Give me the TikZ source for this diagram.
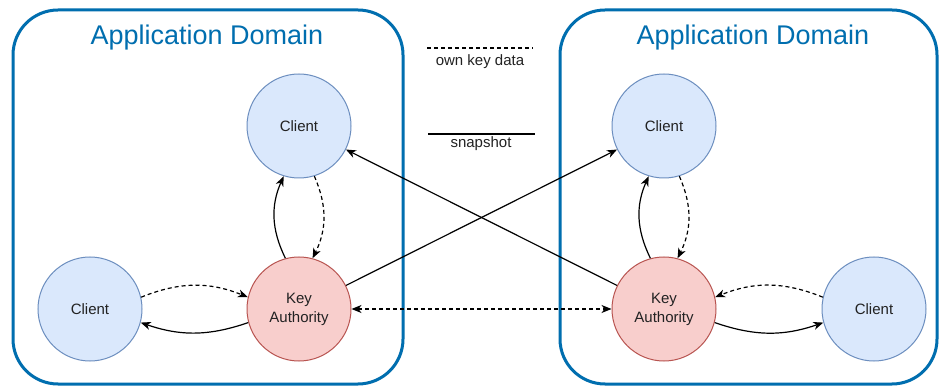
\documentclass[tikz,border=0pt]{standalone}
\usepackage{fontspec}
\setmainfont{Liberation Sans}
\usetikzlibrary{arrows.meta,positioning}
\definecolor{domainblue}{RGB}{0,110,175}
\definecolor{clientfill}{RGB}{218,232,252}
\definecolor{clientline}{RGB}{108,142,191}
\definecolor{authfill}{RGB}{248,206,204}
\definecolor{authline}{RGB}{184,84,80}
\definecolor{ink}{RGB}{34,34,34}
\tikzset{
  client/.style={circle, draw=clientline, fill=clientfill, line width=1pt,
    minimum size=104pt, inner sep=0pt, text=ink, font=\fontsize{15}{19}\selectfont},
  authority/.style={client, draw=authline, fill=authfill, align=center},
  domainbox/.style={draw=domainblue, line width=3pt, rounded corners=45pt},
  domaintitle/.style={text=domainblue, anchor=base, font=\fontsize{27}{32}\selectfont},
  legendtext/.style={text=ink, anchor=base, font=\fontsize{15}{18}\selectfont},
  snap/.style={line width=1.2pt, ->},
  keydata/.style={snap, dash pattern=on 4pt off 3pt},
}

\begin{document}
\begin{tikzpicture}[x=1pt, y=1pt, >={Stealth[length=10pt,width=8pt,inset=3pt]}]
  \useasboundingbox (0,0) rectangle (940,386);
  \fill[white] (0,0) rectangle (940,386);

  % the two domains
  \draw[domainbox] (13,2) rectangle (403,376);
  \draw[domainbox] (560,2) rectangle (937,376);
  \node[domaintitle] (title1) at (207,341) {Application Domain};
  \node[domaintitle] (title2) at (753,341) {Application Domain};

  % legend
  \coordinate (ownA) at (427,338);
  \coordinate (ownB) at (533,338);
  \draw[line width=1.2pt, dash pattern=on 4pt off 3pt] (ownA) -- (ownB);
  \node[legendtext] (ownkey) at (480,320) {own key data};
  \coordinate (snapA) at (428,252);
  \coordinate (snapB) at (535,252);
  \draw[line width=1.2pt] (snapA) -- (snapB);
  \node[legendtext] (snapshot) at (481,238) {snapshot};

  % nodes
  \node[authority] (ka1) at (299,77) {Key\\Authority};
  \node[client, above=78pt of ka1] (ca1) {Client};
  \node[client, left=104pt of ka1] (cl) {Client};
  \node[authority, right=260pt of ka1] (ka2) {Key\\Authority};
  \node[client, above=78pt of ka2] (ca2) {Client};
  \node[client, right=105pt of ka2] (cr) {Client};

  % left domain
  \draw[snap] (ka1.105) to[bend left=25] (ca1.253);
  \draw[keydata] (ca1.-73) to[bend left=25] (ka1.75);
  \draw[keydata] (cl.13) to[bend left=22] (ka1.167);
  \draw[snap] (ka1.195) to[bend left=19] (cl.-15);

  % right domain
  \draw[snap] (ka2.105) to[bend left=25] (ca2.253);
  \draw[keydata] (ca2.-73) to[bend left=25] (ka2.75);
  \draw[keydata] (cr.167) to[bend right=22] (ka2.13);
  \draw[snap] (ka2.-15) to[bend right=19] (cr.195);

  % across the domains
  \draw[snap] (ka1) -- (ca2);
  \draw[snap] (ka2) -- (ca1);
  \draw[keydata, <->] (ka1) -- (ka2);
\end{tikzpicture}
\end{document}
